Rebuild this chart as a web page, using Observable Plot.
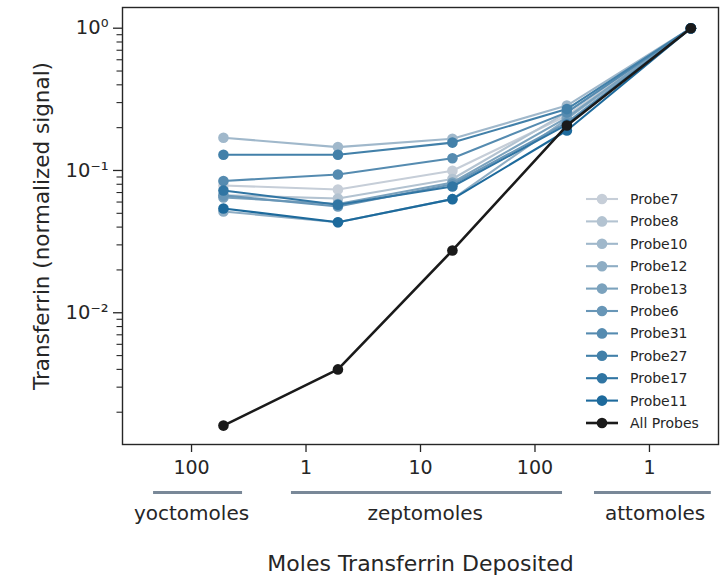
<!DOCTYPE html>
<html>
<head>
<meta charset="utf-8">
<script src="https://cdn.jsdelivr.net/npm/d3@7"></script>
<script src="https://cdn.jsdelivr.net/npm/@observablehq/plot@0.6"></script>
<style>
  html, body { margin: 0; padding: 0; background: #fff; }
  #wrap { position: relative; width: 723px; height: 575px; font-family: "DejaVu Sans", sans-serif; }
  #wrap svg { display: block; }
  #legend { position: absolute; left: 0; top: 0; pointer-events: none; }
</style>
</head>
<body>
<div id="wrap"></div>
<script>
// ---------- data ----------
const amounts = [1.9e-22, 1.9e-21, 1.9e-20, 1.9e-19, 2.3e-18]; // moles deposited
const seriesNames = ["Probe7", "Probe8", "Probe10", "Probe12", "Probe13", "Probe6", "Probe31", "Probe27", "Probe17", "Probe11", "All Probes"];
const probe7  = [0.0785, 0.0735, 0.0995, 0.243, 1];
const probe8  = [0.067, 0.0636, 0.0871, 0.256, 1];
const probe10 = [0.170, 0.146, 0.167, 0.286, 1];
const probe12 = [0.0515, 0.0433, 0.063, 0.230, 1];
const probe13 = [0.0646, 0.0582, 0.0823, 0.235, 1];
const probe6  = [0.0668, 0.0558, 0.080, 0.217, 1];
const probe31 = [0.0844, 0.0937, 0.122, 0.256, 1];
const probe27 = [0.129, 0.129, 0.157, 0.270, 1];
const probe17 = [0.0724, 0.0575, 0.0772, 0.210, 1];
const probe11 = [0.0541, 0.0433, 0.0629, 0.191, 1];
const allProbes = [0.00161, 0.0040, 0.0274, 0.207, 1];
const seriesValues = [probe7, probe8, probe10, probe12, probe13, probe6, probe31, probe27, probe17, probe11, allProbes];

const xTicks = [1e-22, 1e-21, 1e-20, 1e-19, 1e-18];
const xTickLabels = ["100", "1", "10", "100", "1"];
const yTicks = [1, 0.1, 0.01];
const yTickLabels = ["10\u2070", "10\u207B\u00B9", "10\u207B\u00B2"];
const unitGroups = ["yoctomoles", "zeptomoles", "attomoles"];
const unitCenters = [1e-22, 1.1e-20, 1.12e-18];
const unitStarts = [4.66e-23, 7.46e-22, 3.31e-19];
const unitEnds = [2.79e-22, 1.74e-19, 3.47e-18];
const xTitle = "Moles Transferrin Deposited";
const yTitle = "Transferrin (normalized signal)";

// ---------- styles ----------
const colors = ["#c6ced8", "#b3c3d1", "#a0b8cb", "#8eadc4", "#7ba2bd", "#6896b7", "#558bb0", "#4280a9", "#3075a3", "#1d6a9c", "#1a1a1a"];
const W = 723, H = 575;
const xDomain = [Math.pow(10, -22.603), Math.pow(10, -17.397)];
const yDomain = [0.001186, 1.398];
const ink = "#262626";

const rows = [];
seriesNames.forEach((s, i) => seriesValues[i].forEach((v, j) => rows.push({series: s, x: amounts[j], y: v})));

const minorY = [];
for (let e = -3; e <= 0; e++) for (let k = 2; k <= 9; k++) {
  const v = k * Math.pow(10, e);
  if (v >= yDomain[0] && v <= yDomain[1]) minorY.push(v);
}
const xLabelMap = new Map(xTicks.map((t, i) => [t, xTickLabels[i]]));
const yLabelMap = new Map(yTicks.map((t, i) => [t, yTickLabels[i]]));
const units = unitGroups.map((g, i) => ({name: g, x: unitCenters[i], x1: unitStarts[i], x2: unitEnds[i]}));

const seriesMarks = seriesNames.flatMap((s) => {
  const d = rows.filter(r => r.series === s);
  const isAll = s === "All Probes";
  return [
    Plot.line(d, {x: "x", y: "y", stroke: "series", strokeWidth: isAll ? 2.6 : 2.1}),
    Plot.dot(d, {x: "x", y: "y", fill: "series", r: 5.3, stroke: null})
  ];
});

const chart = Plot.plot({
  width: W,
  height: H,
  marginLeft: 122,
  marginRight: 5,
  marginTop: 7,
  marginBottom: 131,
  style: {fontFamily: "DejaVu Sans, sans-serif", color: ink, background: "#fff"},
  x: {type: "log", domain: xDomain},
  y: {type: "log", domain: yDomain},
  color: {type: "ordinal", domain: seriesNames, range: colors},
  marks: [
    ...seriesMarks,
    Plot.frame({stroke: ink, strokeWidth: 1.4}),
    Plot.axisX({ticks: xTicks, tickFormat: d => xLabelMap.get(d), tickSize: 8, tickPadding: 8, fontSize: 19, stroke: ink, strokeWidth: 1.3, label: null}),
    Plot.axisY({ticks: yTicks, tickFormat: d => yLabelMap.get(d), tickSize: 9, tickPadding: 5, fontSize: 19.5, stroke: ink, strokeWidth: 1.3, label: null}),
    Plot.axisY({ticks: minorY, tickFormat: () => "", text: null, tickSize: 5.5, stroke: ink, strokeWidth: 1.1, label: null}),
    Plot.ruleY(units, {y: yDomain[0], x1: "x1", x2: "x2", dy: 48, stroke: "#798898", strokeWidth: 3}),
    Plot.text(units, {x: "x", y: yDomain[0], text: "name", dy: 69, fontSize: 20, fill: ink}),
    Plot.text([xTitle], {frameAnchor: "bottom", dy: 119, lineAnchor: "middle", fontSize: 22, fill: ink}),
    Plot.text([yTitle], {frameAnchor: "left", dx: -80, rotate: -90, textAnchor: "middle", fontSize: 21.5, fill: ink})
  ]
});

const wrap = document.getElementById("wrap");
wrap.appendChild(chart);

// ---------- legend (inside plot area, lower right) ----------
const lg = d3.select(wrap).append("svg").attr("id", "legend").attr("width", W).attr("height", H);
const legendX = 586, legendY = 199, legendStep = 22.4;
seriesNames.forEach((s, i) => {
  const y = legendY + i * legendStep;
  const g = lg.append("g");
  g.append("line").attr("x1", legendX).attr("x2", legendX + 32).attr("y1", y).attr("y2", y)
    .attr("stroke", colors[i]).attr("stroke-width", s === "All Probes" ? 2.6 : 2.1);
  g.append("circle").attr("cx", legendX + 16).attr("cy", y).attr("r", 5.3).attr("fill", colors[i]);
  g.append("text").attr("x", legendX + 44).attr("y", y).attr("dy", "0.35em")
    .attr("font-size", 14).attr("fill", ink).attr("font-family", "DejaVu Sans, sans-serif").text(s);
});
</script>
</body>
</html>
